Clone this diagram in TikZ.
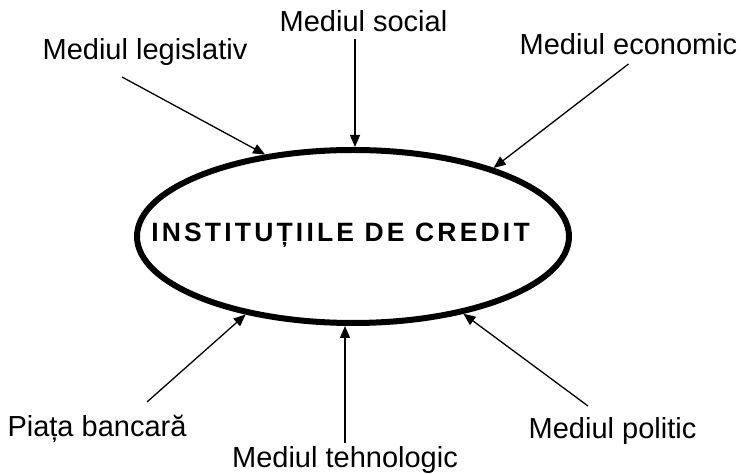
\documentclass[tikz,border=0pt]{standalone}
\usepackage{fontspec}
\setmainfont{Liberation Sans}
\newfontfamily\titlefont[LetterSpace=12]{Liberation Sans}
\usetikzlibrary{positioning,
        shapes,
        arrows.meta}

\begin{document}
\begin{tikzpicture}[x=1pt,y=1pt,
        factor/.style={anchor=base,inner sep=0pt,font=\fontsize{29}{34}\selectfont},
        infl/.style={line width=1.3pt,-{Triangle[length=12pt,width=10pt]}}]
        \useasboundingbox (0,0) rectangle (740,474);

        % central ellipse and its title
        \node [ellipse,draw,line width=6pt,minimum width=432pt,minimum height=173pt,inner sep=0pt] (inst) at (353,237.5) {};
        \node [inner sep=0pt,font=\titlefont\bfseries\fontsize{26.5}{30}\selectfont] (title) at (340.5,239) {INSTITUȚIILE DE CREDIT};

        % surrounding factors
        \node [factor] (social) at (363.5,442) {Mediul social};
        \node [factor] (legis) at (145,414) {Mediul legislativ};
        \node [factor] (econ) at (628.5,419) {Mediul economic};
        \node [factor] (piata) at (97,37) {Piața bancară};
        \node [factor] (tehno) at (345,6) {Mediul tehnologic};
        \node [factor] (polit) at (612.5,35) {Mediul politic};

        % arrow starts
        \coordinate (s1) at (355,435);
        \coordinate (s2) at (122,397);
        \coordinate (s3) at (628.5,410);
        \coordinate (s4) at (147,72);
        \coordinate (s5) at (345,31);
        \coordinate (s6) at (588,68);

        \draw [infl] (s1) -- (s1 |- inst.north);
        \draw [infl] (s2) -- (inst.137);
        \draw [infl] (s3) -- (inst.26);
        \draw [infl] (s4) -- (inst.216);
        \draw [infl] (s5) -- (s5 |- inst.south);
        \draw [infl] (s6) -- (inst.325);
    \end{tikzpicture}
\end{document}
